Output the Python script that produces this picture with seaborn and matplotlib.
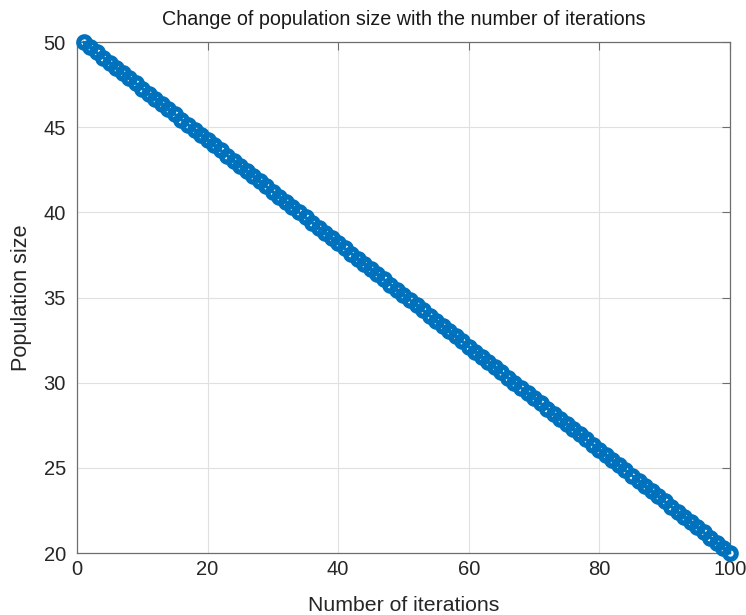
import matplotlib
matplotlib.use("Agg")
import matplotlib.pyplot as plt
import seaborn as sns
import pandas as pd

# Population size recorded at each iteration (shrinks from 50 to 20)
iterations = list(range(1, 101))
population = [
    50.00, 49.70, 49.39, 49.09, 48.79, 48.48, 48.18, 47.88, 47.58, 47.27,
    46.97, 46.67, 46.36, 46.06, 45.76, 45.45, 45.15, 44.85, 44.55, 44.24,
    43.94, 43.64, 43.33, 43.03, 42.73, 42.42, 42.12, 41.82, 41.52, 41.21,
    40.91, 40.61, 40.30, 40.00, 39.70, 39.39, 39.09, 38.79, 38.48, 38.18,
    37.88, 37.58, 37.27, 36.97, 36.67, 36.36, 36.06, 35.76, 35.45, 35.15,
    34.85, 34.55, 34.24, 33.94, 33.64, 33.33, 33.03, 32.73, 32.42, 32.12,
    31.82, 31.52, 31.21, 30.91, 30.61, 30.30, 30.00, 29.70, 29.39, 29.09,
    28.79, 28.48, 28.18, 27.88, 27.58, 27.27, 26.97, 26.67, 26.36, 26.06,
    25.76, 25.45, 25.15, 24.85, 24.55, 24.24, 23.94, 23.64, 23.33, 23.03,
    22.73, 22.42, 22.12, 21.82, 21.52, 21.21, 20.91, 20.61, 20.30, 20.00,
]
x_ticks = [0, 20, 40, 60, 80, 100]
y_ticks = [20, 25, 30, 35, 40, 45, 50]

df = pd.DataFrame({"iteration": iterations, "population": population})

sns.set_theme(style="white")
plt.rcParams["font.family"] = ["Liberation Sans", "DejaVu Sans"]

fig = plt.figure(figsize=(7.46, 6.15), dpi=100)
ax = fig.add_axes([0.1032, 0.1008, 0.8753, 0.8309])

blue = "#0072BD"
sns.lineplot(
    data=df, x="iteration", y="population", ax=ax,
    color=blue, linewidth=2.0,
    marker="o", markersize=8.3, markerfacecolor="none",
    markeredgecolor=blue, markeredgewidth=3.7,
    clip_on=False, zorder=5,
)

ax.set_xlim(0, 100)
ax.set_ylim(20, 50)
ax.set_xticks(x_ticks)
ax.set_yticks(y_ticks)
ax.grid(True, color="#e0e0e0", linewidth=0.8)
ax.set_axisbelow(True)

for s in ax.spines.values():
    s.set_visible(True)
    s.set_color("#6e6e6e")
    s.set_linewidth(0.9)

ax.tick_params(axis="both", direction="in", length=6, width=0.8,
               colors="#6e6e6e", labelcolor="#262626", labelsize=14.5,
               top=True, right=True)
ax.tick_params(axis="x", pad=5)
ax.tick_params(axis="y", pad=8)

ax.set_title("Change of population size with the number of iterations",
             fontsize=14.2, color="#1a1a1a", pad=12)
ax.set_xlabel("Number of iterations", fontsize=15.3, color="#262626", labelpad=12)
ax.set_ylabel("Population size", fontsize=15.6, color="#262626", labelpad=8)

fig.savefig("out.png", dpi=100)
